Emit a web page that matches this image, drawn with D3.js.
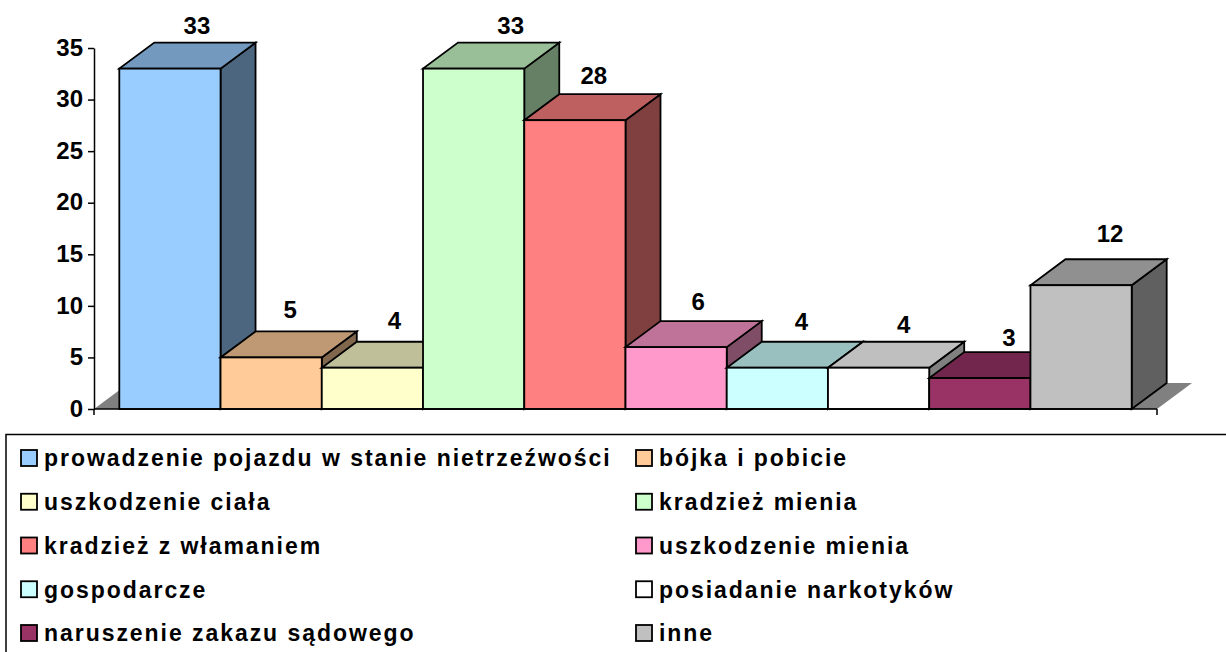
<!DOCTYPE html>
<html>
<head>
<meta charset="utf-8">
<script src="https://d3js.org/d3.v7.min.js"></script>
<style>
    body { margin: 0; background: #fff; }
    svg { display: block; }
    text { font-family: "Liberation Sans", Arial, sans-serif; font-weight: bold; fill: #000; }
    .axis path, .axis line { stroke: #000; stroke-width: 1.5; }
    .axis text { font-size: 24px; }
</style>
</head>
<body>
<script>
    // data
    var categories = ["prowadzenie pojazdu w stanie nietrzeźwości", "bójka i pobicie", "uszkodzenie ciała",
        "kradzież mienia", "kradzież z włamaniem", "uszkodzenie mienia", "gospodarcze",
        "posiadanie narkotyków", "naruszenie zakazu sądowego", "inne"];
    var values = [33, 5, 4, 33, 28, 6, 4, 4, 3, 12];
    var colors = ["#99CCFF", "#FFCC99", "#FFFFCC", "#CCFFCC", "#FF8080", "#FF99CC", "#CCFFFF", "#FFFFFF", "#993366", "#C0C0C0"];
    var yTicks = [0, 5, 10, 15, 20, 25, 30, 35];

    var width = 1226, height = 652;
    var depth = {x: 35, y: -26};
    // the labels in the original don't sit at a regular distance from the bars
    var labelNudgeX = [27, 19, 22, 37, 19, 22, 24, 25, 29, 29];
    var labelNudgeY = [-1, -5, -5, -1, -2, -3, -4, -1, 2, -9];

    var svg = d3.select("body").append("svg")
        .attr("width", width)
        .attr("height", height);

    var x = d3.scaleBand().domain(categories).range([94, 1157]).paddingInner(0).paddingOuter(0.25);
    var y = d3.scaleLinear().domain([0, 35]).range([409, 48]);

    var line = d3.line();

    function shade(c, k) {
        var r = d3.rgb(c);
        return d3.rgb(r.r * k, r.g * k, r.b * k).formatHex();
    }

    function shift(p) { return [p[0] + depth.x, p[1] + depth.y]; }

    // floor
    var x0 = x.range()[0], x1 = x.range()[1];
    svg.append("path")
        .attr("d", line([[x0, y(0)], [x1, y(0)], shift([x1, y(0)]), shift([x0, y(0)])]) + "Z")
        .attr("fill", "#808080");

    // bars, left to right so each one hides the side of the previous one
    var bar = svg.selectAll(".bar")
        .data(categories)
        .enter()
        .append("g")
        .attr("class", "bar");

    function face(points) {
        return function(d, i) {
            var l = x(d), r = l + x.bandwidth(), t = y(values[i]), b = y(0);
            return line(points(l, r, t, b)) + "Z";
        };
    }

    bar.append("path")
        .attr("d", face(function(l, r, t, b) { return [[r, b], [r, t], shift([r, t]), shift([r, b])]; }))
        .attr("fill", function(d, i) { return shade(colors[i], 0.5); });
    bar.append("path")
        .attr("d", face(function(l, r, t, b) { return [[l, t], [r, t], shift([r, t]), shift([l, t])]; }))
        .attr("fill", function(d, i) { return shade(colors[i], 0.75); });
    bar.append("rect")
        .attr("x", function(d) { return x(d); })
        .attr("y", function(d, i) { return y(values[i]); })
        .attr("width", x.bandwidth())
        .attr("height", function(d, i) { return y(0) - y(values[i]); })
        .attr("fill", function(d, i) { return colors[i]; });
    bar.selectAll("path, rect")
        .attr("stroke", "#000")
        .attr("stroke-width", 1.8)
        .attr("stroke-linejoin", "miter");

    // value labels go on top of everything
    svg.selectAll(".value")
        .data(categories)
        .enter()
        .append("text")
        .attr("class", "value")
        .attr("x", function(d, i) { return x(d) + x.bandwidth() / 2 + labelNudgeX[i]; })
        .attr("y", function(d, i) { return y(values[i]) + depth.y - 8 + labelNudgeY[i]; })
        .attr("text-anchor", "middle")
        .attr("font-size", 24)
        .text(function(d, i) { return values[i]; });

    // axes
    svg.append("g")
        .attr("class", "axis")
        .attr("transform", "translate(94,0)")
        .call(d3.axisLeft(y).tickValues(yTicks).tickSize(6).tickPadding(5).tickSizeOuter(0))
        .selectAll("text").attr("dy", "0.3em");

    svg.append("line")
        .attr("x1", x0).attr("x2", x1)
        .attr("y1", y(0)).attr("y2", y(0))
        .attr("stroke", "#000").attr("stroke-width", 1.5);
    svg.selectAll(".end-tick")
        .data([x0, x1])
        .enter()
        .append("line")
        .attr("x1", function(d) { return d; }).attr("x2", function(d) { return d; })
        .attr("y1", y(0)).attr("y2", y(0) + 6)
        .attr("stroke", "#000").attr("stroke-width", 1.5);

    // legend
    svg.append("rect")
        .attr("x", 6).attr("y", 434.5)
        .attr("width", 1240).attr("height", 240)
        .attr("fill", "#fff")
        .attr("stroke", "#000").attr("stroke-width", 1.5);

    var rows = d3.scalePoint().domain(d3.range(5)).range([458, 633]);
    var cols = d3.scaleOrdinal().domain([0, 1]).range([21, 636]);

    var item = svg.selectAll(".legend-item")
        .data(categories)
        .enter()
        .append("g")
        .attr("class", "legend-item")
        .attr("transform", function(d, i) {
            return "translate(" + cols(i % 2) + "," + rows(Math.floor(i / 2)) + ")";
        });

    item.append("rect")
        .attr("x", 0).attr("y", -8)
        .attr("width", 16).attr("height", 16)
        .attr("fill", function(d, i) { return colors[i]; })
        .attr("stroke", "#000").attr("stroke-width", 1.8);

    item.append("text")
        .attr("x", 23)
        .attr("dy", "0.36em")
        .attr("font-size", 23)
        .attr("letter-spacing", "1.95px")
        .text(function(d) { return d; });
</script>
</body>
</html>
